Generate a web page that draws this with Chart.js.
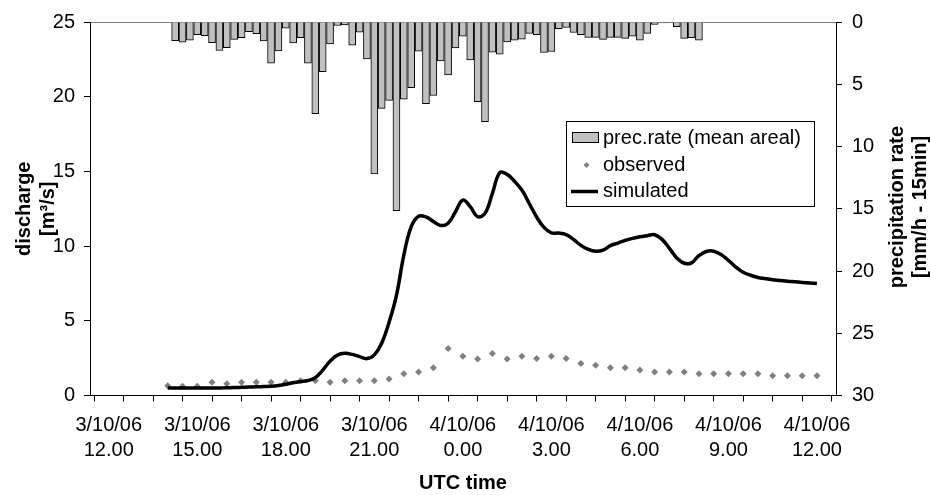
<!DOCTYPE html>
<html>
<head>
<meta charset="utf-8">
<script src="https://cdn.jsdelivr.net/npm/chart.js@4.4.0/dist/chart.umd.min.js"></script>
<style>
html, body { margin: 0; padding: 0; background: #fff; }
</style>
</head>
<body>
<canvas id="runoff" width="930" height="495"></canvas>
<script>
var ctx = document.getElementById('runoff').getContext('2d');

/* time axis: hours after 3/10/06 12.00 UTC */
const tickHours = [0, 1, 2, 3, 4, 5, 6, 7, 8, 9, 10, 11, 12, 13, 14, 15, 16, 17, 18, 19, 20, 21, 22, 23, 24];
const labelHours = [0, 3, 6, 9, 12, 15, 18, 21, 24];
const labelDays = ['3/10/06', '3/10/06', '3/10/06', '3/10/06', '4/10/06', '4/10/06', '4/10/06', '4/10/06', '4/10/06'];
const labelTimes = ['12.00', '15.00', '18.00', '21.00', '0.00', '3.00', '6.00', '9.00', '12.00'];

/* precipitation, 15 min steps from 14.15 */
const precStart = 2.25, precStep = 0.25;
const precRate = [
    1.5, 1.63, 1.45, 1.02, 1.1, 1.66, 2.29, 2.06, 1.39, 1.26,
    0.78, 0.94, 1.52, 3.3, 2.32, 0.49, 1.68, 1.26, 3.3, 7.36,
    3.99, 1.76, 0.28, 0.23, 1.87, 0.81, 2.96, 12.21, 6.94, 6.3,
    15.16, 6.19, 5.27, 2.35, 6.56, 5.9, 3.12, 4.26, 2.08, 1.13,
    3.04, 6.4, 8.0, 2.43, 2.59, 1.6, 1.45, 1.37, 0.91, 1.02,
    2.45, 2.37, 0.54, 0.44, 0.84, 1.02, 1.23, 1.23, 1.39, 1.23,
    1.23, 1.31, 1.13, 1.45, 0.91, 0.2, 0.07, 0.05, 0.38, 1.31,
    1.26, 1.45
];

/* observed discharge, 30 min steps from 14.00 */
const obsStart = 2.0, obsStep = 0.5;
const observed = [
    0.66, 0.62, 0.62, 0.89, 0.78, 0.89, 0.89, 0.89, 0.89, 0.99,
    0.99, 0.89, 0.99, 0.99, 0.99, 1.1, 1.46, 1.57, 1.86, 3.14,
    2.63, 2.45, 2.81, 2.45, 2.63, 2.47, 2.63, 2.47, 2.15, 2.02,
    1.86, 1.86, 1.71, 1.58, 1.58, 1.58, 1.45, 1.45, 1.45, 1.45,
    1.45, 1.32, 1.32, 1.32, 1.32
];

/* simulated discharge, 15 min steps from 14.00 */
const simStart = 2.0, simStep = 0.25;
const simulated = [
    0.5, 0.5, 0.5, 0.5, 0.5, 0.5, 0.5, 0.5, 0.52, 0.53,
    0.55, 0.57, 0.58, 0.6, 0.62, 0.67, 0.75, 0.85, 0.93, 1.0,
    1.2, 1.7, 2.3, 2.7, 2.82, 2.75, 2.6, 2.47, 2.72, 3.5,
    4.9, 6.7, 9.4, 11.3, 12.0, 11.95, 11.65, 11.38, 11.53, 12.3,
    13.08, 12.64, 11.97, 12.19, 13.52, 14.91, 14.8, 14.34, 13.75, 12.85,
    11.95, 11.25, 10.88, 10.87, 10.77, 10.45, 10.05, 9.78, 9.65, 9.73,
    10.03, 10.2, 10.38, 10.52, 10.63, 10.7, 10.76, 10.45, 9.85, 9.2,
    8.85, 8.88, 9.37, 9.64, 9.66, 9.44, 9.05, 8.6, 8.25, 8.05,
    7.9, 7.82, 7.75, 7.7, 7.65, 7.61, 7.57, 7.53, 7.49
];

const rightTitle = ['precipitation rate', '[mm/h - 15min]'];
const FONT = "'Liberation Sans', Arial, sans-serif";

const toPoints = (vals, t0, dt) => vals.map((v, i) => ({ x: t0 + i * dt, y: v }));

Chart.defaults.font.family = FONT;
Chart.defaults.font.size = 20;
Chart.defaults.color = '#000';

// legend box inside the plot + right axis title (reads bottom to top)
const extras = {
    id: 'extras',
    afterDraw(chart) {
        const c = chart.ctx;
        const ds = chart.data.datasets;
        c.save();
        c.fillStyle = '#fff';
        c.fillRect(566, 121, 248, 85);
        c.strokeStyle = '#000';
        c.lineWidth = 1;
        c.strokeRect(566.5, 121.5, 248, 85);

        c.font = '20px ' + FONT;
        c.textAlign = 'left';
        c.textBaseline = 'middle';
        c.fillStyle = '#000';
        // bars
        c.fillStyle = '#c0c0c0';
        c.fillRect(572, 132.5, 26, 10);
        c.strokeStyle = '#000';
        c.strokeRect(572.5, 132.5, 26, 10);
        c.fillStyle = '#000';
        c.fillText(ds[2].label, 603, 138);
        // observed
        c.fillStyle = '#808080';
        c.beginPath();
        c.moveTo(586.5, 162); c.lineTo(589.5, 165); c.lineTo(586.5, 168); c.lineTo(583.5, 165);
        c.closePath();
        c.fill();
        c.fillStyle = '#000';
        c.fillText(ds[1].label, 603, 165);
        // simulated
        c.lineWidth = 3.5;
        c.beginPath();
        c.moveTo(571, 191.5); c.lineTo(598, 191.5);
        c.stroke();
        c.fillText(ds[0].label, 603, 191.5);

        c.font = 'bold 20px ' + FONT;
        c.textAlign = 'center';
        c.translate(897, 207);
        c.rotate(-Math.PI / 2);
        c.fillText(rightTitle[0], 0, 0);
        c.fillText(rightTitle[1], 0, 23);
        c.restore();
    }
};

var myChart = new Chart(ctx, {
    data: {
        datasets: [{
            type: 'line',
            label: 'simulated',
            data: toPoints(simulated, simStart, simStep),
            borderColor: '#000',
            borderWidth: 3.5,
            pointRadius: 0,
            tension: 0.4,
            yAxisID: 'y',
            order: 1
        }, {
            type: 'scatter',
            label: 'observed',
            data: toPoints(observed, obsStart, obsStep),
            pointStyle: 'rectRot',
            pointRadius: 3.5,
            backgroundColor: '#808080',
            borderWidth: 0,
            pointBorderWidth: 0,
            yAxisID: 'y',
            order: 2
        }, {
            type: 'bar',
            label: 'prec.rate (mean areal)',
            data: toPoints(precRate, precStart, precStep),
            backgroundColor: '#c0c0c0',
            borderColor: '#000',
            borderWidth: 1,
            barThickness: 7,
            yAxisID: 'y1',
            order: 3
        }]
    },
    options: {
        responsive: false,
        animation: false,
        devicePixelRatio: 1,
        layout: { padding: 0 },
        plugins: {
            legend: { display: false },
            tooltip: { enabled: false }
        },
        scales: {
            x: {
                type: 'linear',
                position: 'bottom',
                min: -0.13,
                max: 24.14,
                afterBuildTicks: s => { s.ticks = tickHours.map(v => ({ value: v })); },
                afterFit: s => { s.height = 99.5; },
                grid: { drawOnChartArea: false, tickLength: 6, color: '#000' },
                border: { color: '#000' },
                ticks: {
                    autoSkip: false,
                    maxRotation: 0,
                    padding: 12,
                    font: { lineHeight: 1.23 },
                    callback: v => {
                        const i = labelHours.indexOf(v);
                        return i < 0 ? '' : [labelDays[i], labelTimes[i]];
                    }
                },
                title: {
                    display: true,
                    text: 'UTC time',
                    font: { weight: 'bold', size: 20 },
                    padding: { top: 0, bottom: 0 }
                }
            },
            xTop: {
                type: 'linear',
                position: 'top',
                min: -0.13,
                max: 24.14,
                afterFit: s => { s.height = 18.7; },
                grid: { display: false },
                border: { display: true, color: '#808080' },
                ticks: { display: false }
            },
            y: {
                type: 'linear',
                position: 'left',
                min: 0,
                max: 25,
                afterFit: s => { s.width = 90; },
                ticks: { stepSize: 5, padding: 9 },
                grid: { drawOnChartArea: false, tickLength: 6, color: '#000' },
                border: { color: '#000' },
                title: {
                    display: true,
                    text: ['discharge', '[m³/s]'],
                    font: { weight: 'bold', size: 20, lineHeight: 1.2 },
                    padding: { top: 12, bottom: 0 }
                }
            },
            y1: {
                type: 'linear',
                position: 'right',
                reverse: true,
                min: 0,
                max: 30,
                afterFit: s => { s.width = 94; },
                ticks: { stepSize: 5, padding: 10 },
                grid: { drawOnChartArea: false, tickLength: 6, color: '#000' },
                border: { color: '#000' }
            }
        }
    },
    plugins: [extras]
});
</script>
</body>
</html>
